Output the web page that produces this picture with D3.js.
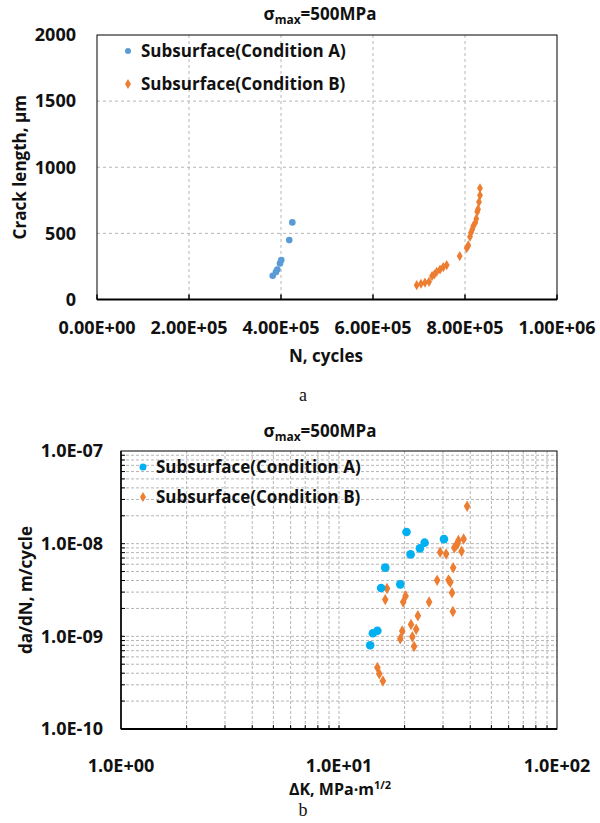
<!DOCTYPE html>
<html>
<head>
<meta charset="utf-8">
<script src="https://cdn.jsdelivr.net/npm/d3@7"></script>
<style>
  body { margin: 0; background: #fff; }
  svg text { font-family: "Open Sans", Lato, sans-serif; font-weight: bold; fill: #111; }
  .caption { font-family: "Liberation Serif", serif; font-weight: normal; }
</style>
</head>
<body>
<div id="chart"></div>
<script>
// ---- chart a data: crack length vs cycles ----
const aTicksX = [0, 2e5, 4e5, 6e5, 8e5, 1e6];
const aTicksY = [0, 500, 1000, 1500, 2000];
const condA_N = [382000, 389000, 392000, 397800, 400600, 418000, 424600];
const condA_len = [180, 207, 227, 273, 298, 449, 583];
const condB_N = [695000, 704300, 713000, 721700, 728300, 733300, 738500, 745700, 752800, 760200,
                 788500, 803700, 807200, 810900, 813000, 815900, 818000, 822400, 824600, 826700,
                 828300, 830400, 832600, 832600];
const condB_len = [108, 119, 127, 134, 177, 189, 210, 227, 245, 260,
                   328, 389, 409, 475, 505, 530, 555, 581, 611, 664,
                   682, 737, 788, 841];

// ---- chart b data: da/dN vs delta K ----
const bDecadesX = [1, 10, 100];
const bDecadesY = [1e-10, 1e-9, 1e-8, 1e-7];
const condA_dK = [13.9, 14.3, 15.0, 15.6, 16.3, 19.1, 20.4, 21.3, 23.5, 24.7, 30.3];
const condA_dadN = [8.0e-10, 1.08e-9, 1.15e-9, 3.32e-9, 5.51e-9, 3.64e-9, 1.334e-8, 7.66e-9, 8.9e-9, 1.025e-8, 1.12e-8];
const condB_dK = [15.0, 15.3, 15.9, 16.3, 16.6, 19.1, 19.5, 19.7, 20.2, 21.4, 21.7, 22.1, 22.6, 23.0, 25.9,
                  28.2, 29.1, 31.0, 31.8, 32.4, 33.0, 33.3, 33.4, 33.8, 34.5, 35.0, 35.3, 36.5, 37.3, 38.7];
const condB_dadN = [4.62e-10, 3.95e-10, 3.30e-10, 2.49e-9, 3.29e-9, 9.4e-10, 1.14e-9, 2.35e-9, 2.72e-9, 1.34e-9,
                    9.9e-10, 7.77e-10, 1.19e-9, 1.67e-9, 2.35e-9, 4.02e-9, 8.1e-9, 7.72e-9, 4.05e-9, 3.83e-9,
                    2.96e-9, 1.85e-9, 5.51e-9, 9.05e-9, 9.6e-9, 1.0e-8, 1.085e-8, 8.26e-9, 1.12e-8, 2.53e-8];

const width = 600, height = 823;
const svg = d3.select("#chart").append("svg")
    .attr("width", width).attr("height", height);

const gridColor = "#b5b5b5";
const fmtE = p => d => d3.format(p)(d).replace("e", "E").replace(/E([+-])(\d)$/, "E$10$2");

function addTitle(x, y) {
    const t = svg.append("text").attr("x", x).attr("y", y)
        .attr("text-anchor", "middle").style("font-size", "17px");
    t.append("tspan").text("σ");
    t.append("tspan").text("max").style("font-size", "12px").attr("dy", 4);
    t.append("tspan").text("=500MPa").attr("dy", -4);
}

function addLegend(x, y, gap, colA, colB, rA) {
    const lg = svg.append("g");
    lg.append("circle").attr("cx", x).attr("cy", y).attr("r", rA).attr("fill", colA);
    lg.append("path").attr("d", d3.symbol(d3.symbolDiamond, 30)())
        .attr("transform", `translate(${x},${y + gap})`).attr("fill", colB);
    lg.append("text").attr("x", x + 13).attr("y", y).attr("dy", "0.35em")
        .style("font-size", "17px").text("Subsurface(Condition A)");
    lg.append("text").attr("x", x + 13).attr("y", y + gap).attr("dy", "0.35em")
        .style("font-size", "17px").text("Subsurface(Condition B)");
}

// ================= chart a =================
const a = { left: 97, right: 557, top: 35, bottom: 299.5 };
const xa = d3.scaleLinear().domain([0, 1e6]).range([a.left, a.right]);
const ya = d3.scaleLinear().domain([0, 2000]).range([a.bottom, a.top]);

const ga = svg.append("g");
ga.selectAll(".vg").data(aTicksX.slice(1, -1)).enter().append("line")
    .attr("x1", d => xa(d)).attr("x2", d => xa(d))
    .attr("y1", a.top).attr("y2", a.bottom)
    .attr("stroke", gridColor).attr("stroke-dasharray", "3,3");
ga.selectAll(".hg").data(aTicksY.slice(1, -1)).enter().append("line")
    .attr("x1", a.left).attr("x2", a.right)
    .attr("y1", d => ya(d)).attr("y2", d => ya(d))
    .attr("stroke", gridColor).attr("stroke-dasharray", "3,3");
ga.append("rect").attr("x", a.left).attr("y", a.top)
    .attr("width", a.right - a.left).attr("height", a.bottom - a.top)
    .attr("fill", "none").attr("stroke", "#000").attr("stroke-width", 1);
ga.append("line").attr("x1", a.left).attr("x2", a.right)
    .attr("y1", a.bottom).attr("y2", a.bottom).attr("stroke", "#000").attr("stroke-width", 2);
ga.selectAll(".tk").data(aTicksX).enter().append("line")
    .attr("x1", d => xa(d)).attr("x2", d => xa(d))
    .attr("y1", a.bottom).attr("y2", a.bottom - 5).attr("stroke", "#000").attr("stroke-width", 1.5);

ga.selectAll(".xl").data(aTicksX).enter().append("text")
    .attr("x", d => xa(d)).attr("y", 328).attr("text-anchor", "middle")
    .attr("dy", "0.35em").style("font-size", "18px").text(fmtE(".2e"));
ga.selectAll(".yl").data(aTicksY).enter().append("text")
    .attr("x", 76).attr("y", d => ya(d)).attr("text-anchor", "end")
    .attr("dy", "0.35em").style("font-size", "18px").text(d => d);

ga.append("text").attr("x", 326).attr("y", 356).attr("text-anchor", "middle")
    .attr("dy", "0.35em").style("font-size", "17px").text("N, cycles");
ga.append("text").attr("transform", `translate(20,${(a.top + a.bottom) / 2}) rotate(-90)`)
    .attr("text-anchor", "middle").attr("dy", "0.35em").style("font-size", "17px")
    .text("Crack length, μm");

ga.selectAll(".pa").data(condA_N).enter().append("circle")
    .attr("cx", d => xa(d)).attr("cy", (d, i) => ya(condA_len[i]))
    .attr("r", 3.3).attr("fill", "#5b9bd5");
ga.selectAll(".pb").data(condB_N).enter().append("path")
    .attr("d", d3.symbol(d3.symbolDiamond, 30)())
    .attr("transform", (d, i) => `translate(${xa(d)},${ya(condB_len[i])})`)
    .attr("fill", "#ed7d31");

addTitle(320, 20);
addLegend(128, 51, 33, "#5b9bd5", "#ed7d31", 3);

svg.append("text").attr("class", "caption").attr("x", 303).attr("y", 395)
    .attr("text-anchor", "middle").attr("dy", "0.35em").style("font-size", "18px").text("a");

// ================= chart b =================
const b = { left: 121, right: 557, top: 451, bottom: 729 };
const xb = d3.scaleLog().domain([1, 100]).range([b.left, b.right]);
const yb = d3.scaleLog().domain([1e-10, 1e-7]).range([b.bottom, b.top]);

const gb = svg.append("g");
const xGrid = xb.ticks().filter(d => d > 1 && d < 100);
const yGrid = yb.ticks().filter(d => d > 1e-10 * 1.0001 && d < 1e-7 * 0.9999);
gb.selectAll(".vg").data(xGrid).enter().append("line")
    .attr("x1", d => xb(d)).attr("x2", d => xb(d))
    .attr("y1", b.top).attr("y2", b.bottom)
    .attr("stroke", gridColor).attr("stroke-dasharray", "3,2");
gb.selectAll(".hg").data(yGrid).enter().append("line")
    .attr("x1", b.left).attr("x2", b.right)
    .attr("y1", d => yb(d)).attr("y2", d => yb(d))
    .attr("stroke", gridColor).attr("stroke-dasharray", "3,2");
gb.append("rect").attr("x", b.left).attr("y", b.top)
    .attr("width", b.right - b.left).attr("height", b.bottom - b.top)
    .attr("fill", "none").attr("stroke", "#000").attr("stroke-width", 1);
gb.append("line").attr("x1", b.left).attr("x2", b.right)
    .attr("y1", b.bottom).attr("y2", b.bottom).attr("stroke", "#000").attr("stroke-width", 2);
gb.append("line").attr("x1", b.left).attr("x2", b.left)
    .attr("y1", b.top).attr("y2", b.bottom).attr("stroke", "#000").attr("stroke-width", 1.5);
gb.selectAll(".tx").data(xGrid).enter().append("line")
    .attr("x1", d => xb(d)).attr("x2", d => xb(d))
    .attr("y1", b.bottom).attr("y2", b.bottom - 4).attr("stroke", "#000");
gb.selectAll(".ty").data(yGrid).enter().append("line")
    .attr("x1", b.left).attr("x2", b.left + 4)
    .attr("y1", d => yb(d)).attr("y2", d => yb(d)).attr("stroke", "#000");

gb.selectAll(".xl").data(bDecadesX).enter().append("text")
    .attr("x", d => xb(d)).attr("y", 766).attr("text-anchor", "middle")
    .attr("dy", "0.35em").style("font-size", "18px").text(fmtE(".1e"));
gb.selectAll(".yl").data(bDecadesY).enter().append("text")
    .attr("x", 103).attr("y", d => yb(d)).attr("text-anchor", "end")
    .attr("dy", "0.35em").style("font-size", "18px").text(fmtE(".1e"));

const xt = gb.append("text").attr("x", 340).attr("y", 789).attr("text-anchor", "middle")
    .attr("dy", "0.35em").style("font-size", "16px");
xt.append("tspan").text("ΔK, MPa·m");
xt.append("tspan").text("1/2").style("font-size", "11px").attr("dy", -6);
gb.append("text").attr("transform", `translate(26,${(b.top + b.bottom) / 2}) rotate(-90)`)
    .attr("text-anchor", "middle").attr("dy", "0.35em").style("font-size", "17px")
    .text("da/dN, m/cycle");

gb.selectAll(".pb").data(condB_dK).enter().append("path")
    .attr("d", d3.symbol(d3.symbolDiamond, 38)())
    .attr("transform", (d, i) => `translate(${xb(d)},${yb(condB_dadN[i])})`)
    .attr("fill", "#ed7d31");
gb.selectAll(".pa").data(condA_dK).enter().append("circle")
    .attr("cx", d => xb(d)).attr("cy", (d, i) => yb(condA_dadN[i]))
    .attr("r", 4.3).attr("fill", "#00b0f0");

addTitle(320, 437);
addLegend(143, 467, 30, "#00b0f0", "#ed7d31", 3.5);

svg.append("text").attr("class", "caption").attr("x", 303).attr("y", 810)
    .attr("text-anchor", "middle").attr("dy", "0.35em").style("font-size", "18px").text("b");
</script>
</body>
</html>
